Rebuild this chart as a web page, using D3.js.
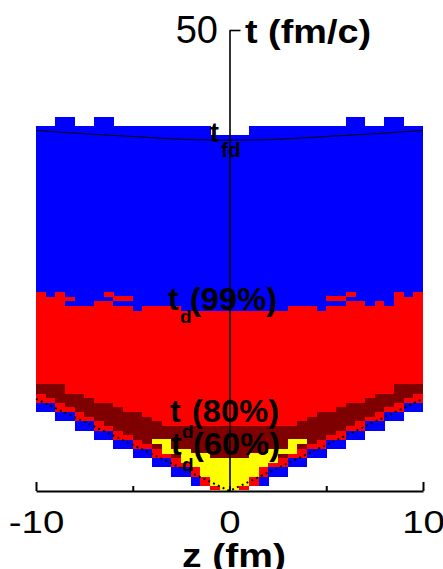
<!DOCTYPE html>
<html>
<head>
<meta charset="utf-8">
<script src="https://cdn.jsdelivr.net/npm/d3@7"></script>
<style>
body { margin: 0; background: #fff; }
svg { display: block; }
text { font-family: "Liberation Sans", Arial, sans-serif; fill: #000; }
</style>
</head>
<body>
<svg width="443" height="569"></svg>
<script>
// cell grid: 40 columns of 0.5 fm in z, rows of 0.5 fm/c in t
// lower part (light cone side), right half, column j covers z = 0.5j .. 0.5j+0.5
// left half is the mirror of it
const coneBlueBot = [null, null, null, 0.6, 1.6, 1.6, 2.6, 2.6, 3.6, 3.6, 4.6, 4.6, 5.6, 5.6, 6.6, 6.6, 7.6, 7.6, 8.6, 8.6];
const coneRedBot  = [0.1, 0.1, 0.6, 1.6, 2.6, 2.6, 3.6, 3.6, 4.6, 4.6, 5.6, 5.6, 6.6, 6.6, 7.6, 7.6, 8.6, 8.6, 9.6, 9.6];
const darkBot     = [0.1, 0.6, 1.6, 2.6, 3.1, 3.6, 4.1, 4.6, 5.1, 5.6, 6.1, 6.6, 7.1, 7.6, 8.1, 8.6, 9.1, 9.6, 10.1, 10.6];
const yelBot      = [0.1, 0.6, 1.6, 2.6, 3.1, 4.1, 4.1, 5.1];
const yelTop      = [3.6, 3.6, 4.1, 4.1, 4.6, 4.6, 5.6, 5.6];
// td(80%) boundary
const darkTop     = [7.1, 7.1, 7.1, 7.1, 7.1, 7.1, 7.1, 7.6, 8.1, 8.6, 8.6, 9.1, 9.6, 9.6, 10.1, 10.6, 10.6, 11.6, 11.6, 11.6];

// upper part, all 40 columns from z=-10 to z=10
// td(99%) boundary (red -> blue)
const td99 = [21.6, 21.1, 21.6, 21.1, 20.1, 20.1, 20.6, 20.6, 20.1, 20.1,
              19.6, 20.1, 20.1, 20.1, 20.1, 19.6, 19.6, 19.6, 19.6, 19.6,
              19.6, 19.6, 19.6, 19.6, 19.6, 19.6, 20.1, 20.1, 20.1, 19.6,
              20.1, 20.1, 20.6, 20.6, 20.1, 20.6, 20.1, 21.6, 21.1, 21.6];
// top of the blue region
const blueTop = [39.6, 39.6, 40.6, 40.6, 39.6, 39.6, 40.6, 40.6, 39.6, 39.6,
                 39.6, 39.6, 39.6, 39.6, 39.6, 39.6, 39.6, 39.6, 38.6, 38.6,
                 38.6, 38.6, 39.6, 39.6, 39.6, 39.6, 39.6, 39.6, 39.6, 39.6,
                 39.6, 39.6, 40.6, 40.6, 39.6, 39.6, 40.6, 40.6, 39.6, 39.6];

// loose cells near the td(99%) boundary
const extraCol   = [3, 7, 8, 9, 30, 31, 32];
const extraT     = [20.1, 21.1, 20.6, 20.6, 20.6, 20.6, 21.1];
const extraColor = ['blue', 'red', 'red', 'red', 'red', 'red', 'red'];

// t_fd curve
const tfdZ = [-10, -7.5, -5, -2.5, 0, 2.5, 5, 7.5, 10];
const tfdT = [39.1, 38.75, 38.45, 38.15, 38.05, 38.15, 38.45, 38.75, 39.1];

// light cone t = |z| (dotted)
const coneZ = [-10, 0, 10];
const coneT = [10, 0, 10];

const colors = { blue: '#0000ff', red: '#ff0000', dark: '#7f0000', yellow: '#ffff00' };

const svg = d3.select('svg');
const x = d3.scaleLinear().domain([-10, 10]).range([36, 423]);
const y = d3.scaleLinear().domain([0, 50]).range([491, 30]);
const dz = 0.5, dt = 0.5;

// build cells
let cells = [];
for (let c = 0; c < 40; c++) {
	const z0 = -10 + dz * c;
	const j = c < 20 ? 19 - c : c - 20;
	if (coneBlueBot[j] != null) cells.push({z0, t0: coneBlueBot[j], t1: coneRedBot[j], color: 'blue'});
	cells.push({z0, t0: coneRedBot[j], t1: darkBot[j], color: 'red'});
	cells.push({z0, t0: darkBot[j], t1: darkTop[j], color: 'dark'});
	if (j < yelBot.length) cells.push({z0, t0: yelBot[j], t1: yelTop[j], color: 'yellow'});
	cells.push({z0, t0: darkTop[j], t1: td99[c], color: 'red'});
	cells.push({z0, t0: td99[c], t1: blueTop[c], color: 'blue'});
}
extraCol.forEach((c, i) => {
	cells.push({z0: -10 + dz * c, t0: extraT[i], t1: extraT[i] + dt, color: extraColor[i]});
});
cells = cells.filter(d => d.t1 > d.t0);

svg.append('g')
	.attr('shape-rendering', 'crispEdges')
	.selectAll('rect')
	.data(cells)
	.join('rect')
	.attr('x', d => x(d.z0))
	.attr('width', d => x(d.z0 + dz) - x(d.z0) + 0.4)
	.attr('y', d => y(d.t1))
	.attr('height', d => y(d.t0) - y(d.t1) + 0.4)
	.attr('fill', d => colors[d.color]);

// t_fd line
const tfdLine = d3.line().x(d => x(d[0])).y(d => y(d[1])).curve(d3.curveNatural);
svg.append('path')
	.attr('d', tfdLine(d3.zip(tfdZ, tfdT)))
	.attr('fill', 'none')
	.attr('stroke', '#000')
	.attr('stroke-width', 1);

// light cone, dotted
const coneLine = d3.line().x(d => x(d[0])).y(d => y(d[1]));
svg.append('path')
	.attr('d', coneLine(d3.zip(coneZ, coneT)))
	.attr('fill', 'none')
	.attr('stroke', '#000')
	.attr('stroke-width', 2)
	.attr('stroke-dasharray', '2,3.3');

// x axis
const xAxis = svg.append('g')
	.attr('transform', `translate(0,${y(0)})`)
	.call(d3.axisBottom(x)
		.tickValues([-10, -5, 0, 5, 10])
		.tickSize(-5)
		.tickSizeOuter(0)
		.tickPadding(19)
		.tickFormat(d => (d === -10 || d === 0 || d === 10) ? d3.format('d')(d) : ''));
xAxis.select('.domain').attr('stroke-width', 2);
xAxis.selectAll('.tick line').attr('stroke-width', 2)
	.attr('y2', d => Math.abs(d) === 10 ? -9 : -5);
xAxis.selectAll('.tick text')
	.attr('font-size', 32)
	.attr('font-family', '"Liberation Sans", Arial, sans-serif')
	.attr('transform', 'scale(1.2,1)')
	.text(d => d === -10 ? '-10' : (d === 0 || d === 10 ? String(d) : ''));

// t axis along z = 0
const tAxis = svg.append('g')
	.attr('transform', `translate(${x(0)},0)`)
	.call(d3.axisRight(y).tickValues([50]).tickSize(11).tickSizeOuter(0).tickFormat(''));
tAxis.select('.domain').attr('stroke-width', 1.6);
tAxis.selectAll('.tick line').attr('stroke-width', 1.6);

svg.append('text')
	.attr('x', 218).attr('y', y(50) + 12.5)
	.attr('text-anchor', 'end')
	.attr('font-size', 38)
	.text('50');

svg.append('text')
	.attr('x', 245).attr('y', 43)
	.attr('font-size', 33).attr('font-weight', 'bold')
	.attr('textLength', 126).attr('lengthAdjust', 'spacingAndGlyphs')
	.text('t (fm/c)');

svg.append('text')
	.attr('x', 182).attr('y', 567)
	.attr('font-size', 33).attr('font-weight', 'bold')
	.attr('textLength', 104).attr('lengthAdjust', 'spacingAndGlyphs')
	.text('z (fm)');

// curve labels
const labels = [
	{tx: 168, ty: 310, dx: 180, dy: 323, px: 190, text: '(99%)'},
	{tx: 170, ty: 422, dx: 182, dy: 438, px: 192, text: '(80%)'},
	{tx: 171, ty: 455, dx: 182, dy: 471, px: 193, text: '(60%)'}
];
labels.forEach(l => {
	svg.append('text').attr('x', l.tx).attr('y', l.ty)
		.attr('font-size', 32).attr('font-weight', 'bold').text('t');
	svg.append('text').attr('x', l.dx).attr('y', l.dy)
		.attr('font-size', 19).attr('font-weight', 'bold').text('d');
	svg.append('text').attr('x', l.px).attr('y', l.ty)
		.attr('font-size', 31).attr('font-weight', 'bold')
		.attr('textLength', 87).attr('lengthAdjust', 'spacingAndGlyphs')
		.text(l.text);
});

svg.append('text').attr('x', 210).attr('y', 141.5)
	.attr('font-size', 27).attr('font-weight', 'bold').text('t');
svg.append('text').attr('x', 221).attr('y', 156.5)
	.attr('font-size', 21).attr('font-weight', 'bold').text('fd');
</script>
</body>
</html>
